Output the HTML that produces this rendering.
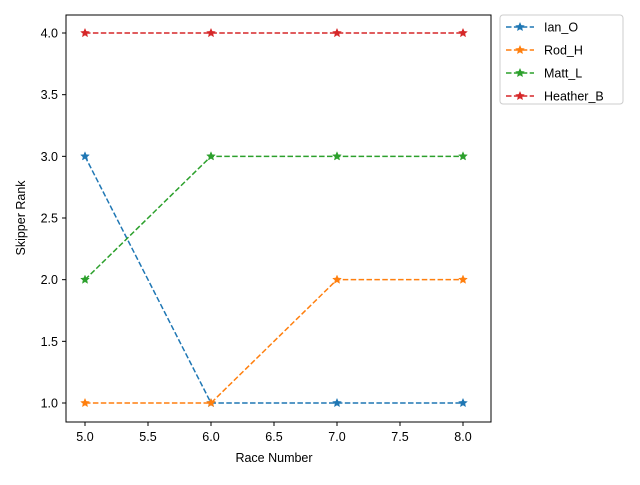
<!DOCTYPE html>
<html><head><meta charset="utf-8"><style>
body{margin:0;background:#fff;}
text{font-family:"Liberation Sans","DejaVu Sans",sans-serif;font-size:12.5px;fill:#000;}
</style></head><body>
<svg id="chart" width="640" height="480" xmlns="http://www.w3.org/2000/svg">
<rect x="0" y="0" width="640" height="480" fill="#fff"/>
<g id="plot"></g>
<rect x="66" y="15" width="425" height="407" fill="none" stroke="#000" stroke-width="1"/>
<text x="274" y="462" text-anchor="middle">Race Number</text>
<text transform="translate(25,218) rotate(-90)" text-anchor="middle">Skipper Rank</text>
<g id="legend">
<rect x="500" y="15" width="123" height="89" rx="3" fill="#fff" stroke="#ccc"/>
</g>
</svg>
<script>
const races = [5, 6, 7, 8];
const seriesNames = ["Ian_O", "Rod_H", "Matt_L", "Heather_B"];
const ianO = [3, 1, 1, 1];
const rodH = [1, 1, 2, 2];
const mattL = [2, 3, 3, 3];
const heatherB = [4, 4, 4, 4];
const xTicks = [5.0, 5.5, 6.0, 6.5, 7.0, 7.5, 8.0];
const yTicks = [1.0, 1.5, 2.0, 2.5, 3.0, 3.5, 4.0];

const colors = ["#1f77b4", "#ff7f0e", "#2ca02c", "#d62728"];
const allSeries = [ianO, rodH, mattL, heatherB];
const NS = "http://www.w3.org/2000/svg";
function xs(v){ return 85 + (v - 5) * 126; }
function ys(v){ return 403 - (v - 1) * 123.33; }
const plot = document.getElementById('plot');
const svg = document.getElementById('chart');
function mk(tag, attrs, parent){ const e = document.createElementNS(NS, tag); for (const k in attrs) e.setAttribute(k, attrs[k]); parent.appendChild(e); return e; }
function star(cx, cy, r, color, parent){
  let pts = [];
  for (let i = 0; i < 10; i++){ const a = -Math.PI/2 + i*Math.PI/5; const rr = i%2 ? r*0.45 : r; pts.push((cx+rr*Math.cos(a)).toFixed(1)+','+(cy+rr*Math.sin(a)).toFixed(1)); }
  return mk('polygon', {points: pts.join(' '), fill: color, stroke: color, 'stroke-width': 0.5}, parent);
}
xTicks.forEach(t => {
  const g = mk('g', {}, svg);
  
  
  mk('line', {x1: xs(t), x2: xs(t), y1: 422, y2: 426, stroke: '#000'}, g);
  const tx = mk('text', {x: xs(t), y: 441, 'text-anchor': 'middle'}, g);
  tx.textContent = t.toFixed(1);
});
yTicks.forEach(t => {
  const g = mk('g', {}, svg);
  
  
  mk('line', {x1: 62, x2: 66, y1: ys(t), y2: ys(t), stroke: '#000'}, g);
  const tx = mk('text', {x: 58, y: ys(t) + 4.5, 'text-anchor': 'end'}, g);
  tx.textContent = t.toFixed(1);
});
allSeries.forEach((vals, si) => {
  const g = mk('g', {}, plot);
  
  
  mk('polyline', {points: vals.map((v, i) => xs(races[i]) + ',' + ys(v)).join(' '), fill: 'none', stroke: colors[si], 'stroke-width': 1.5, 'stroke-dasharray': '5.5,2.4'}, g);
  vals.forEach((v, i) => {
    const p = star(xs(races[i]), ys(v), 4.5, colors[si], g);
    
    
  });
});
const legend = document.getElementById('legend');
seriesNames.forEach((n, i) => {
  const y = 27 + i * 23;
  const g = mk('g', {}, legend);
  
  
  mk('line', {x1: 506, x2: 534, y1: y, y2: y, stroke: colors[i], 'stroke-width': 1.5, 'stroke-dasharray': '5.5,2.4'}, g);
  star(520, y, 4.5, colors[i], g);
  const t = mk('text', {x: 544, y: y + 4.5}, g);
  t.textContent = n;
});
</script>
</body></html>
